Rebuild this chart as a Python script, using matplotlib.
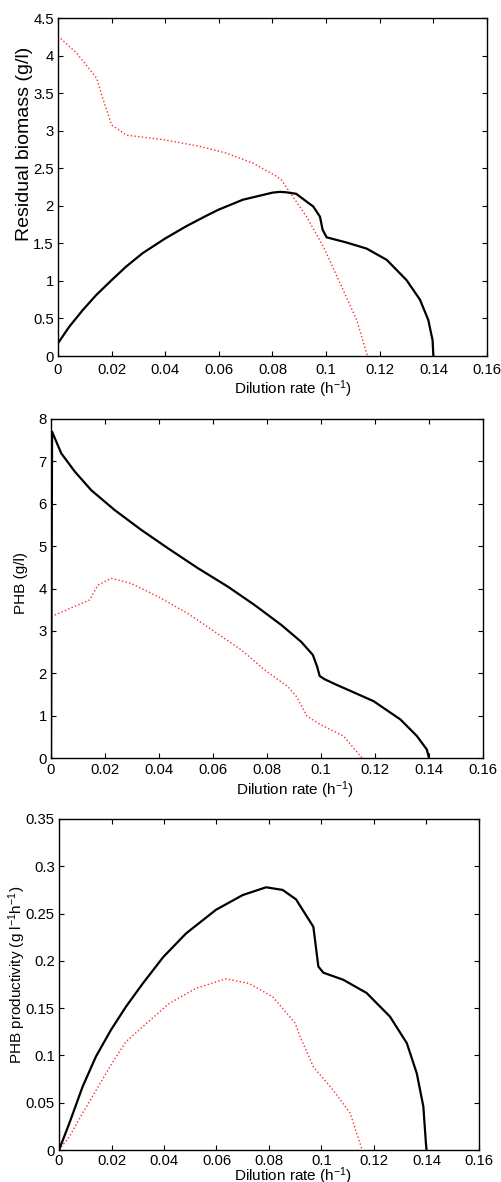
import numpy as np
import matplotlib.pyplot as plt

plt.rcParams['font.family'] = ['Liberation Sans', 'DejaVu Sans']
plt.rcParams['mathtext.fontset'] = 'custom'
plt.rcParams['mathtext.rm'] = 'Liberation Sans'
plt.rcParams['mathtext.it'] = 'Liberation Sans'

# panel 1: residual biomass
d_bio_k = [0, 0.0042, 0.0092, 0.0142, 0.02, 0.0254, 0.0316, 0.04, 0.0477, 0.0552,
           0.06, 0.0689, 0.08, 0.0828, 0.085, 0.0888, 0.0903, 0.0952, 0.0977,
           0.0987, 0.1002, 0.1077, 0.1151, 0.1226, 0.130, 0.135, 0.1381, 0.1397, 0.14]
bio_k = [0.17, 0.39, 0.61, 0.81, 1.01, 1.19, 1.37, 1.565, 1.725, 1.865,
         1.95, 2.08, 2.175, 2.185, 2.18, 2.16, 2.12, 1.99, 1.855,
         1.68, 1.58, 1.51, 1.43, 1.28, 1.01, 0.75, 0.48, 0.21, 0.0]
d_bio_r = [0, 0.007, 0.0144, 0.0169, 0.02, 0.0256, 0.0393, 0.053, 0.0629, 0.0729,
           0.0816, 0.0834, 0.0927, 0.099, 0.1052, 0.1114, 0.1154]
bio_r = [4.26, 4.03, 3.70, 3.41, 3.075, 2.94, 2.88, 2.79, 2.70, 2.565,
         2.39, 2.34, 1.855, 1.455, 0.97, 0.48, 0.0]

# panel 2: PHB
d_phb_k = [0, 0.0004, 0.0038, 0.0088, 0.0149, 0.0236, 0.0335, 0.0433, 0.0544, 0.0656,
           0.0754, 0.0853, 0.0927, 0.097, 0.0986, 0.0995, 0.1014, 0.106, 0.1096,
           0.1195, 0.1294, 0.1355, 0.1392, 0.14]
phb_k = [0.0, 7.70, 7.19, 6.76, 6.32, 5.85, 5.38, 4.95, 4.48, 4.04,
         3.61, 3.14, 2.74, 2.43, 2.15, 1.935, 1.857, 1.72, 1.62,
         1.34, 0.91, 0.52, 0.2, 0.0]
d_phb_r = [0, 0.0002, 0.0063, 0.0143, 0.0174, 0.0223, 0.0297, 0.0396, 0.0507, 0.0606,
           0.0705, 0.0791, 0.0878, 0.0909, 0.0948, 0.0997, 0.1083, 0.1152]
phb_r = [3.78, 3.34, 3.51, 3.73, 4.08, 4.24, 4.12, 3.81, 3.41, 2.98,
         2.55, 2.08, 1.68, 1.45, 0.99, 0.79, 0.52, 0.0]

# panel 3: PHB productivity
d_prod_k = [0, 0.0039, 0.009, 0.0141, 0.0198, 0.0255, 0.0319, 0.0397, 0.0484, 0.0598,
            0.07, 0.0789, 0.0852, 0.0903, 0.0969, 0.0988, 0.1007, 0.1083, 0.1172,
            0.1261, 0.1325, 0.1363, 0.1388, 0.1397, 0.14]
prod_k = [0.0, 0.028, 0.067, 0.099, 0.127, 0.1515, 0.176, 0.204, 0.229, 0.254,
          0.2696, 0.2778, 0.275, 0.265, 0.236, 0.194, 0.1875, 0.18, 0.166,
          0.141, 0.113, 0.081, 0.046, 0.01, 0.0]
d_prod_r = [0, 0.0039, 0.009, 0.0141, 0.0198, 0.0255, 0.0342, 0.042, 0.0522, 0.0636,
            0.0725, 0.0814, 0.0842, 0.090, 0.0918, 0.0969, 0.1045, 0.1109, 0.1155]
prod_r = [0.0, 0.014, 0.039, 0.063, 0.09, 0.1145, 0.136, 0.155, 0.171, 0.181,
          0.176, 0.162, 0.153, 0.134, 0.12, 0.088, 0.063, 0.039, 0.0]

xticks = [0, 0.02, 0.04, 0.06, 0.08, 0.1, 0.12, 0.14, 0.16]
xticklabels = ['0', '0.02', '0.04', '0.06', '0.08', '0.1', '0.12', '0.14', '0.16']

panels = [
    (d_bio_k, bio_k, d_bio_r, bio_r, 4.5, np.arange(0, 4.51, 0.5),
     ['0', '0.5', '1', '1.5', '2', '2.5', '3', '3.5', '4', '4.5'],
     'Residual biomass (g/l)', 14, 5.0,
     [58, 18, 487, 356], (-0.058, 0.627), (0.548, -0.065)),
    (d_phb_k, phb_k, d_phb_r, phb_r, 8, np.arange(0, 8.1, 1),
     ['0', '1', '2', '3', '4', '5', '6', '7', '8'],
     'PHB (g/l)', 11, 3.6,
     [51, 419, 483, 758], (-0.053, 0.515), (0.564, -0.063)),
    (d_prod_k, prod_k, d_prod_r, prod_r, 0.35, np.arange(0, 0.351, 0.05),
     ['0', '0.05', '0.1', '0.15', '0.2', '0.25', '0.3', '0.35'],
     'PHB productivity (g l$^{-1}$h$^{-1}$)', 11, 2.9,
     [59, 819, 479, 1150], (-0.074, 0.53), (0.556, -0.048)),
]

W, H = 502, 1182
fig = plt.figure(figsize=(W / 100, H / 100), dpi=100)

for dk, yk, dr, yr, ymax, yt, ytl, ylab, ylsize, xpad, box, ylc, xlc in panels:
    x0, y0, x1, y1 = box
    ax = fig.add_axes([x0 / W, 1 - y1 / H, (x1 - x0) / W, (y1 - y0) / H])
    ax.plot(dr, yr, ':', color='#ff2a2a', lw=1.0)
    ax.plot(dk, yk, '-', color='black', lw=1.6)
    ax.set_xlim(0, 0.16)
    ax.set_ylim(0, ymax)
    ax.set_xticks(xticks)
    ax.set_xticklabels(xticklabels)
    ax.set_yticks(yt)
    ax.set_yticklabels(ytl)
    ax.tick_params(direction='in', length=3.5, width=0.8, top=True, right=True,
                   labelsize=10.7)
    ax.tick_params(axis='x', pad=xpad)
    ax.tick_params(axis='y', pad=3)
    for s in ax.spines.values():
        s.set_linewidth(1.0)
    ax.set_ylabel(ylab, fontsize=ylsize)
    ax.set_xlabel('Dilution rate (h$^{-1}$)', fontsize=11)
    ax.yaxis.set_label_coords(*ylc)
    ax.xaxis.set_label_coords(*xlc)

fig.savefig('out.png', dpi=100)
